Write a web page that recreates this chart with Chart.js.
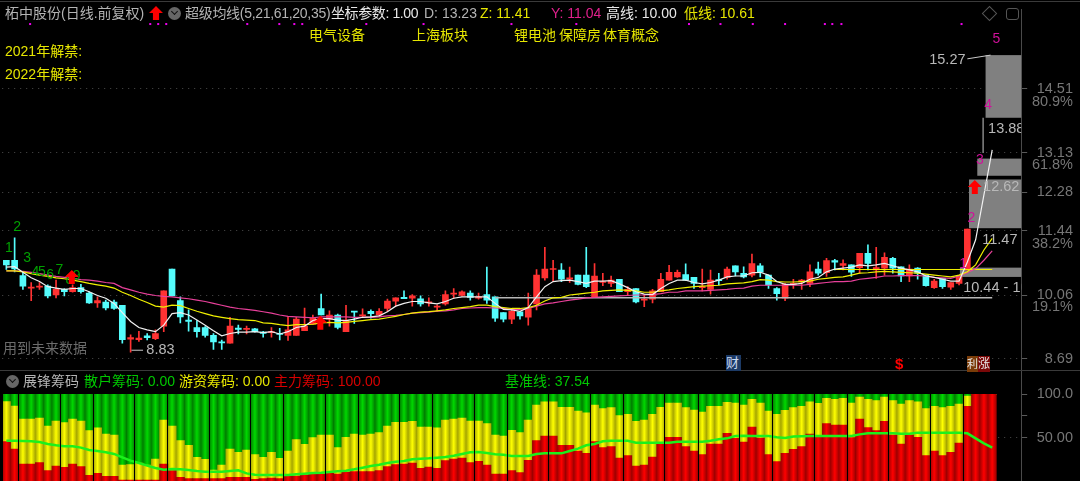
<!DOCTYPE html>
<html>
<head>
<meta charset="utf-8">
<title>柘中股份</title>
<script src="https://cdn.jsdelivr.net/npm/chart.js@4"></script>
<style>
html, body { margin: 0; padding: 0; background: #000; overflow: hidden; }
#page { position: relative; width: 1080px; height: 481px; background: #000; overflow: hidden; }
canvas { position: absolute; left: 0; }
#priceChart { top: 0; }
#chipChart { top: 370px; }
.t { position: absolute; white-space: nowrap; font: 14px "Liberation Sans", "Noto Sans CJK SC", sans-serif; line-height: 16px; }
.gray { color: #b4b4b4; }
.white { color: #e8e8e8; }
.yellow { color: #e6e600; }
.pink { color: #e0208c; }
.green { color: #00c800; }
.red { color: #d80000; }
.round { position: absolute; width: 13px; height: 13px; border-radius: 50%; background: #666; }
.round:after { content: ""; position: absolute; left: 3.5px; top: 2px; width: 4px; height: 4px; border: solid #111; border-width: 0 1.5px 1.5px 0; transform: rotate(45deg); }
.up { position: absolute; left: 149px; top: 6px; width: 14px; height: 14px; background: #f00; clip-path: polygon(50% 0, 100% 50%, 72% 50%, 72% 100%, 28% 100%, 28% 50%, 0 50%); }
.line { position: absolute; background: #3a3a3a; }
</style>
</head>
<body>
<div id="page">
<canvas id="priceChart" width="1080" height="370"></canvas>
<canvas id="chipChart" width="1080" height="111"></canvas>

<div class="line" style="left:0;top:1px;width:1080px;height:1px"></div>
<div class="line" style="left:0;top:370px;width:1080px;height:1px"></div>

<span class="t gray" style="left:5px;top:5px">柘中股份(日线.前复权)</span>
<div class="up"></div>
<div class="round" style="left:168px;top:7px"></div>
<span class="t gray" style="left:185px;top:5px;letter-spacing:-.3px">超级均线(5,21,61,20,35)</span>
<span class="t white" style="left:331px;top:5px;letter-spacing:-.4px">坐标参数: 1.00</span>
<span class="t gray" style="left:424px;top:5px">D: 13.23</span>
<span class="t yellow" style="left:480px;top:5px">Z: 11.41</span>
<span class="t pink" style="left:551px;top:5px">Y: 11.04</span>
<span class="t white" style="left:606px;top:5px">高线: 10.00</span>
<span class="t yellow" style="left:684px;top:5px">低线: 10.61</span>
<div style="position:absolute;left:984px;top:8px;width:9px;height:9px;border:1px solid #555;transform:rotate(45deg)"></div>
<div style="position:absolute;left:1006px;top:8px;width:11px;height:10px;border:1.5px solid #555;border-radius:3px"></div>

<span class="t yellow" style="left:309px;top:27px">电气设备</span>
<span class="t yellow" style="left:412px;top:27px">上海板块</span>
<span class="t yellow" style="left:514px;top:27px">锂电池</span>
<span class="t yellow" style="left:559px;top:27px">保障房</span>
<span class="t yellow" style="left:603px;top:27px">体育概念</span>
<span class="t yellow" style="left:5px;top:43px">2021年解禁:</span>
<span class="t yellow" style="left:5px;top:66px">2022年解禁:</span>
<span class="t" style="left:3px;top:340px;color:#6c6c6c">用到未来数据</span>

<span class="t" style="left:726px;top:355px;width:15px;background:#1c3a66;color:#c8d8f0;font-size:13px">财</span>
<span class="t" style="left:895px;top:356px;color:#f00;font-size:15px;font-weight:bold">$</span>
<span class="t" style="left:967px;top:356px;width:11px;background:#7a3c08;color:#e8e8e8;font-size:11px;overflow:hidden">利</span>
<span class="t" style="left:978px;top:356px;width:12px;background:#7a0808;color:#e8e8e8;font-size:12px;overflow:hidden">涨</span>

<div class="round" style="left:6px;top:375px"></div>
<span class="t gray" style="left:23px;top:373px">展锋筹码</span>
<span class="t green" style="left:84px;top:373px">散户筹码: 0.00</span>
<span class="t yellow" style="left:179px;top:373px">游资筹码: 0.00</span>
<span class="t red" style="left:274px;top:373px">主力筹码: 100.00</span>
<span class="t green" style="left:505px;top:373px">基准线: 37.54</span>
</div>

<script>
// categories: 120 trading days plus the empty slots up to the price axis
const days = [];
for (let i = 0; i < 123; i++) days.push(i);

const opens = [10.81,10.81,10.48,10.21,10.23,10.25,10.06,10.18,10.13,10.22,
	10.10,9.89,9.91,9.91,9.84,9.11,9.10,9.18,9.12,9.39,
	10.62,9.94,9.52,9.36,9.36,9.19,9.05,9.02,9.35,9.32,
	9.33,9.26,9.25,9.23,9.19,9.19,9.29,9.43,9.77,9.54,
	9.63,9.27,9.71,9.61,9.71,9.63,9.77,9.93,10.01,9.99,
	9.98,9.89,9.80,9.87,10.08,10.05,10.10,9.99,10.07,10.02,
	9.68,9.54,9.70,9.58,9.87,10.43,10.61,10.60,10.40,10.49,
	10.49,10.02,10.33,10.31,10.40,10.13,10.20,9.95,9.97,10.13,
	10.38,10.45,10.50,10.44,10.22,10.18,10.39,10.44,10.69,10.53,
	10.49,10.69,10.49,10.20,9.99,10.29,10.34,10.31,10.62,10.54,
	10.80,10.70,10.71,10.65,10.96,10.60,10.64,10.85,10.67,10.47,
	10.64,10.49,10.22,10.42,10.23,10.31,10.60];
const closes = [10.71,10.62,10.25,10.22,10.25,10.04,10.18,10.13,10.22,10.13,
	9.89,9.94,9.78,9.77,9.10,9.14,9.13,9.14,9.23,10.15,
	10.04,9.59,9.49,9.27,9.19,9.05,9.03,9.39,9.32,9.34,
	9.27,9.23,9.27,9.21,9.31,9.54,9.39,9.56,9.63,9.63,
	9.36,9.52,9.69,9.63,9.66,9.71,9.93,10.00,9.98,10.04,
	9.87,9.91,9.82,10.07,10.10,10.13,10.01,10.02,9.95,9.56,
	9.54,9.71,9.61,9.77,10.49,10.62,10.62,10.40,10.43,10.29,
	10.24,10.47,10.35,10.38,10.13,10.18,9.91,9.97,10.15,10.40,
	10.55,10.55,10.38,10.31,10.24,10.38,10.37,10.62,10.56,10.45,
	10.74,10.55,10.28,10.09,10.29,10.31,10.38,10.56,10.53,10.80,
	10.77,10.74,10.55,10.96,10.74,10.65,10.87,10.64,10.47,10.62,
	10.53,10.26,10.36,10.24,10.33,10.46,11.48];
const highs = [10.81,11.29,10.56,10.33,10.33,10.28,10.38,10.20,10.28,10.29,
	10.13,10.02,9.95,9.95,9.84,9.20,9.28,9.23,9.31,10.15,
	10.62,10.02,9.74,9.51,9.38,9.23,9.09,9.58,9.41,9.39,
	9.34,9.28,9.36,9.34,9.59,9.58,9.78,9.63,10.08,9.72,
	9.65,9.84,9.71,9.76,9.74,9.77,9.97,10.00,10.15,10.07,
	10.04,10.00,9.85,10.15,10.20,10.15,10.15,10.10,10.66,10.02,
	9.68,9.77,9.70,10.10,10.61,11.09,10.81,10.74,10.66,10.49,
	11.09,10.74,10.53,10.47,10.40,10.24,10.20,10.06,10.18,10.53,
	10.70,10.60,10.73,10.44,10.62,10.60,10.53,10.66,10.69,10.67,
	10.94,10.74,10.49,10.22,10.31,10.40,10.40,10.71,10.77,10.85,
	10.83,10.82,10.71,10.96,11.14,11.09,10.97,10.87,10.67,10.71,
	10.65,10.49,10.40,10.42,10.33,10.49,11.48];
const lows = [10.61,10.56,10.18,9.94,10.18,10.00,10.00,10.04,10.12,10.10,
	9.88,9.79,9.74,9.75,9.02,8.83,9.06,9.09,9.10,9.27,
	10.04,9.46,9.28,9.15,9.15,8.89,8.89,9.02,9.22,9.22,
	9.26,9.15,9.15,9.09,9.08,9.19,9.29,9.43,9.63,9.39,
	9.33,9.27,9.45,9.58,9.56,9.61,9.70,9.82,9.98,9.82,
	9.82,9.82,9.71,9.84,9.99,10.04,9.95,9.97,9.88,9.49,
	9.48,9.44,9.54,9.41,9.74,10.38,10.35,10.35,10.33,10.28,
	10.22,10.02,10.26,10.24,10.13,10.05,9.89,9.81,9.89,10.13,
	10.38,10.44,10.37,10.20,10.15,10.08,10.28,10.40,10.47,10.43,
	10.45,10.45,10.20,9.95,9.94,10.20,10.18,10.24,10.49,10.46,
	10.60,10.60,10.46,10.53,10.60,10.42,10.49,10.53,10.35,10.35,
	10.40,10.25,10.20,10.20,10.18,10.28,10.60];

const maWhite = [10.66,10.67,10.55,10.43,10.35,10.24,10.21,10.18,10.20,10.20,
	10.13,10.05,9.99,9.88,9.68,9.49,9.36,9.31,9.27,9.41,
	9.66,9.68,9.63,9.52,9.41,9.29,9.18,9.23,9.26,9.26,
	9.27,9.25,9.27,9.22,9.27,9.36,9.39,9.51,9.55,9.55,
	9.52,9.51,9.54,9.58,9.59,9.61,9.70,9.82,9.88,9.92,
	9.92,9.89,9.87,9.92,9.99,10.02,10.02,10.02,10.02,9.88,
	9.75,9.74,9.71,9.79,10.02,10.24,10.35,10.37,10.38,10.35,
	10.31,10.36,10.36,10.37,10.30,10.22,10.13,10.08,10.07,10.20,
	10.31,10.38,10.38,10.33,10.30,10.33,10.38,10.45,10.47,10.47,
	10.54,10.55,10.49,10.35,10.29,10.29,10.31,10.40,10.44,10.56,
	10.62,10.64,10.66,10.71,10.69,10.71,10.74,10.69,10.64,10.60,
	10.56,10.47,10.44,10.40,10.36,10.36,10.77,11.25,12.22,13.19];
const maYellow = [10.58,10.58,10.56,10.52,10.49,10.46,10.43,10.41,10.38,10.35,
	10.31,10.28,10.25,10.21,10.12,10.05,9.97,9.90,9.82,9.80,
	9.84,9.83,9.77,9.71,9.66,9.61,9.58,9.55,9.53,9.52,
	9.51,9.46,9.45,9.42,9.40,9.42,9.42,9.43,9.46,9.47,
	9.46,9.47,9.49,9.51,9.53,9.54,9.57,9.60,9.64,9.67,
	9.69,9.70,9.72,9.74,9.77,9.79,9.81,9.84,9.84,9.81,
	9.79,9.77,9.77,9.79,9.84,9.93,10.00,10.01,10.06,10.08,
	10.10,10.12,10.15,10.16,10.17,10.16,10.15,10.12,10.12,10.15,
	10.17,10.20,10.22,10.24,10.25,10.26,10.27,10.30,10.31,10.32,
	10.35,10.39,10.38,10.35,10.34,10.34,10.35,10.36,10.40,10.42,
	10.44,10.45,10.49,10.53,10.54,10.56,10.57,10.56,10.55,10.54,
	10.53,10.51,10.49,10.47,10.45,10.49,10.56,10.71,11.03,11.28];
const maPink = [10.58,10.58,10.57,10.55,10.52,10.49,10.46,10.44,10.42,10.39,
	10.38,10.36,10.33,10.31,10.22,10.17,10.12,10.08,10.05,10.03,
	10.02,10.00,9.98,9.95,9.92,9.88,9.84,9.80,9.77,9.75,
	9.73,9.70,9.67,9.63,9.60,9.59,9.58,9.57,9.59,9.59,
	9.59,9.59,9.58,9.58,9.58,9.59,9.61,9.62,9.64,9.67,
	9.68,9.69,9.71,9.72,9.74,9.77,9.78,9.79,9.79,9.78,
	9.77,9.75,9.75,9.77,9.82,9.87,9.89,9.92,9.95,9.97,
	10.00,10.01,10.02,10.03,10.04,10.05,10.06,10.06,10.07,10.09,
	10.12,10.12,10.15,10.15,10.15,10.16,10.17,10.18,10.20,10.21,
	10.25,10.27,10.27,10.27,10.27,10.27,10.27,10.29,10.31,10.33,
	10.35,10.35,10.36,10.40,10.42,10.44,10.47,10.47,10.48,10.48,
	10.48,10.47,10.44,10.43,10.42,10.47,10.54,10.63,10.81,11.01];

// the two flat levels from the header (高线 / 低线)
const highLine = [{x: 59, y: 10.00}, {x: 119, y: 10.00}];
const lowLine = [{x: 100, y: 10.61}, {x: 119, y: 10.61}];

const priceTicks = [14.51, 13.13, 12.28, 11.44, 10.06, 8.69];
const percentTicks = {14.22: "80.9%", 12.87: "61.8%", 11.16: "38.2%", 9.8: "19.1%"};

// gray wave boxes: start slot, top price, bottom price
const boxStart = [118.2, 117.2, 116.2, 115.1];
const boxTop = [15.23, 13.00, 12.55, 10.65];
const boxBottom = [13.88, 12.63, 11.50, 10.45];

const labelText = ["15.27", "13.88", "12.62 -", "11.47 -", "10.44 - 10.61", "8.83"];
const labelSlot = [111.4, 118.5, 117.9, 117.8, 115.5, 16.9];
const labelPrice = [15.13, 13.64, 12.39, 11.25, 10.21, 8.87];

const waveGreen = ["1", "2", "3", "4", "5", "6", "7", "8", "9"];
const waveGreenSlot = [0.3, 1.3, 2.5, 3.5, 4.3, 5.3, 6.4, 7.6, 8.5];
const waveGreenPrice = [11.07, 11.53, 10.86, 10.56, 10.56, 10.49, 10.6, 10.38, 10.47];
const wavePink = ["1", "2", "3", "4", "5"];
const wavePinkSlot = [115.5, 116.5, 117.5, 118.5, 119.5];
const wavePinkPrice = [10.73, 11.71, 12.96, 14.16, 15.58];

const dotSlots = [2.87, 17.37, 18.33, 19.3, 29.08, 32.95, 34.76, 35.72, 43.45, 50.36,
	60.97, 68.8, 82.4, 86.2, 90.1, 94, 98.8, 99.7, 100.8, 115.3];
const dotPrice = 15.9;

const arrowSlots = [7.9, 37.9, 116.9];
const arrowPrices = [10.45, 9.46, 12.39];

// chip panel, read at each bar
const mainChips = [45.4,36.9,19.6,19.6,21.2,11.9,17.3,15.8,19.6,16.5,
	6.5,8.8,5.4,5.4,1.2,1.2,1.2,1.2,1.2,19.6,
	11.9,4.2,2.7,2.7,2.7,2.7,2.7,4.2,4.2,4.2,
	1.9,2.7,3.5,2.7,5.8,5.8,6.9,8.1,8.1,8.8,
	8.1,10,10.8,10.8,10.8,11.9,16.5,18.8,19.6,20.8,
	14.6,16.2,14.6,23.5,25.4,26.5,21.2,22.7,18.5,8.1,
	8.1,11.9,9.6,23.8,46.5,51.9,51.9,41.2,41.2,34.6,
	31.9,45.4,38.5,39.6,26.5,29.2,17.3,18.5,27.7,42.7,
	50.4,50.4,39.6,34.6,30.4,42.7,42.7,55,49.2,45,
	62.3,49.6,30.4,22.3,31.9,36.5,39.6,54.2,51.9,66.2,
	64.6,64.6,50,71.5,61.5,58.1,68.8,53.1,42.7,53.1,
	50.4,29.2,34.6,29.2,33.1,43.8,86.2,100,100,100];
const yellowTops = [91.5,86.5,71.5,71.5,72.7,63.5,69.2,67.3,71.5,69.2,
	58.1,61.2,54.2,53.1,18.5,18.8,20.8,18.5,25.4,70.4,
	63.5,46.5,41.2,27.3,25,12.7,18.5,36.9,33.1,35.8,
	30.4,27.3,33.1,26.2,34.6,47.7,42.3,50,53.1,53.1,
	38.5,50.4,54.2,53.1,54.2,55.8,63.5,67.7,67.7,68.8,
	62.3,62.3,61.2,70.4,71.5,72.7,69.2,69.2,66.2,53.1,
	51.9,58.5,55.8,70.4,87.7,91.2,91.2,85,85,80.8,
	78.5,87.7,83.5,84.6,75.4,76.9,68.8,70.4,76.9,85,
	90,90,84.6,81.9,79.6,86.2,86.2,90.8,90,87.7,
	94.2,90,80.8,76.9,81.5,84.6,86.2,91.2,89.6,95.4,
	94.2,95.4,90,96.9,94.2,92.7,96.9,92.7,88.8,92.7,
	91.2,83.5,86.2,84.6,86.2,88.8,98.1,100,100,100];
const baseLine = [46.5,46.5,46.2,45.8,45,42.7,41.2,40,40,38.5,
	35.8,34.6,33.1,31.2,27.3,23.5,20.8,17.7,15,13.1,
	13.8,13.5,12.7,11.5,10.8,10.8,10.8,11.5,12.3,8.8,
	7.3,6.9,6.9,6.9,6.9,7.7,8.5,9.2,9.6,10.4,
	11.2,11.9,13.5,15.4,17.3,18.8,20.8,22.3,23.1,25,
	25.8,26.2,26.9,27.7,29.2,31.2,33.1,33.5,32.3,30.8,
	30.4,28.8,28.8,28.8,31.2,31.9,31.9,31.9,34.6,37.3,
	41.2,42.7,45.8,46.5,46.5,46.5,44.2,44.2,44.2,44.2,
	44.2,45.4,45.4,45.4,45.4,46.5,48.1,49.2,51.9,52.3,
	51.9,51.9,51.9,50.4,49.6,51.2,51.5,51.9,51.9,51.9,
	51.9,51.9,51.9,53.8,55,55,55,55,54.6,54.6,
	55.8,55.8,55.8,55.8,55.8,55.8,55,49.2,43.5,38.5];
// month boundaries, dark gaps between the bars
const monthStarts = [0, 2, 7, 11, 16, 20, 25, 30, 34, 39, 43, 48, 52, 57, 61, 66, 71, 75, 80, 84,
	89, 93, 98, 102, 107, 112, 116];

const hotChips = yellowTops.map((v, i) => v - mainChips[i]);
const retailChips = yellowTops.map(v => 100 - v);

const bodyColor = (ctx) => closes[ctx.dataIndex] >= opens[ctx.dataIndex] ? "#ff3232" : "#54fcfc";
const LABEL_FONT = '14.5px "Liberation Sans", sans-serif';

function lineSet(data, color, order, width) {
	return {type: "line", data, borderColor: color, borderWidth: width, pointRadius: 0, order};
}

// the tick labels must not push the plot away from the panel edges
function fitAxis(axis) {
	axis.width = 51.8;
	axis.paddingTop = 0;
	axis.paddingBottom = 0;
}

// wave boxes go under the candles
const boxPlugin = {
	id: "boxes",
	beforeDatasetsDraw(chart) {
		const {ctx, scales: {x, y}, chartArea} = chart;
		ctx.save();
		ctx.fillStyle = "#808080";
		boxStart.forEach((start, i) => {
			const left = x.getPixelForValue(start);
			const top = y.getPixelForValue(boxTop[i]);
			ctx.fillRect(left, top, chartArea.right - left, y.getPixelForValue(boxBottom[i]) - top);
		});
		ctx.restore();
	}
};

const notePlugin = {
	id: "notes",
	afterDatasetsDraw(chart) {
		const {ctx, scales: {x, y}, chartArea} = chart;
		ctx.save();
		ctx.beginPath();
		ctx.rect(0, 0, chartArea.right, chart.height);
		ctx.clip();

		ctx.fillStyle = "#ee00ee";
		dotSlots.forEach(s => ctx.fillRect(x.getPixelForValue(s) - 1, y.getPixelForValue(dotPrice) - 1, 2, 2));

		ctx.font = LABEL_FONT;
		ctx.textBaseline = "middle";
		ctx.fillStyle = "#b8b8b8";
		labelText.forEach((text, i) => ctx.fillText(text, x.getPixelForValue(labelSlot[i]), y.getPixelForValue(labelPrice[i])));

		ctx.font = '14px "Liberation Sans", sans-serif';
		ctx.textAlign = "center";
		ctx.fillStyle = "#00a000";
		waveGreen.forEach((text, i) => ctx.fillText(text, x.getPixelForValue(waveGreenSlot[i]), y.getPixelForValue(waveGreenPrice[i])));
		ctx.fillStyle = "#d0109a";
		wavePink.forEach((text, i) => ctx.fillText(text, x.getPixelForValue(wavePinkSlot[i]), y.getPixelForValue(wavePinkPrice[i])));

		// leader lines of the labels
		ctx.strokeStyle = "#c8c8c8";
		ctx.lineWidth = 1;
		ctx.beginPath();
		ctx.moveTo(x.getPixelForValue(116), y.getPixelForValue(15.15));
		ctx.lineTo(x.getPixelForValue(118.8), y.getPixelForValue(15.23));
		ctx.moveTo(x.getPixelForValue(117.9), y.getPixelForValue(13.88));
		ctx.lineTo(x.getPixelForValue(117.9), y.getPixelForValue(13.12));
		ctx.moveTo(x.getPixelForValue(16.5), y.getPixelForValue(8.87));
		ctx.lineTo(x.getPixelForValue(15.1), y.getPixelForValue(8.87));
		ctx.stroke();

		// red up arrows
		ctx.fillStyle = "#ff0000";
		arrowSlots.forEach((s, i) => {
			const px = x.getPixelForValue(s);
			const py = y.getPixelForValue(arrowPrices[i]);
			ctx.beginPath();
			ctx.moveTo(px, py - 7);
			ctx.lineTo(px + 7, py);
			ctx.lineTo(px + 3, py);
			ctx.lineTo(px + 3, py + 7);
			ctx.lineTo(px - 3, py + 7);
			ctx.lineTo(px - 3, py);
			ctx.lineTo(px - 7, py);
			ctx.closePath();
			ctx.fill();
		});
		ctx.restore();
	}
};

new Chart(document.getElementById("priceChart").getContext("2d"), {
	data: {
		labels: days,
		datasets: [
			lineSet(maWhite, "#f0f0f0", 3, 1.2),
			lineSet(maYellow, "#f0f000", 4, 1.2),
			lineSet(maPink, "#e8409a", 5, 1.2),
			lineSet(highLine, "#b8b8b8", 6, 1.5),
			lineSet(lowLine, "#f0f000", 6, 1),
			{type: "bar", data: opens.map((v, i) => [v, closes[i]]), backgroundColor: bodyColor,
				barThickness: 6, grouped: false, minBarLength: 1, order: 7},
			{type: "bar", data: lows.map((v, i) => [v, highs[i]]), backgroundColor: bodyColor,
				barThickness: 1, grouped: false, order: 8}
		]
	},
	options: {
		responsive: false,
		animation: false,
		layout: {padding: {left: 2.2, top: 9, right: 7, bottom: 0}},
		plugins: {legend: {display: false}, tooltip: {enabled: false}},
		scales: {
			x: {display: false, offset: true, grid: {display: false}},
			y: {
				position: "right",
				min: 8.444,
				max: 16.224,
				afterFit: fitAxis,
				afterBuildTicks(axis) {
					axis.ticks = priceTicks.concat(Object.keys(percentTicks).map(Number)).map(value => ({value}));
				},
				ticks: {
					autoSkip: false,
					color: "#767676",
					font: {family: '"Liberation Sans"', size: 14.5},
					padding: 0,
					crossAlign: "far",
					callback: value => percentTicks[value] || value.toFixed(2)
				},
				grid: {
					color: ctx => priceTicks.includes(ctx.tick.value) ? "#4c4c4c" : "transparent",
					tickColor: ctx => priceTicks.includes(ctx.tick.value) ? "#5a5a5a" : "transparent",
					tickLength: 6
				},
				border: {color: "#4a4a4a", dash: [1, 5]}
			}
		}
	},
	plugins: [boxPlugin, notePlugin]
});

// each chip bar is shaded like a small cylinder
function shaded(edge, middle) {
	return (ctx) => {
		const scale = ctx.chart.scales.x;
		const px = scale ? scale.getPixelForValue(ctx.dataIndex) : NaN;
		const half = scale ? scale.width / days.length / 2 : 0;
		if (!isFinite(px) || !half) return middle;
		const fill = ctx.chart.ctx.createLinearGradient(px - half, 0, px + half, 0);
		fill.addColorStop(0, edge);
		fill.addColorStop(0.5, middle);
		fill.addColorStop(1, edge);
		return fill;
	};
}

new Chart(document.getElementById("chipChart").getContext("2d"), {
	data: {
		labels: days,
		datasets: [
			{type: "line", data: baseLine, borderColor: "#1cf01c", borderWidth: 2.5, pointRadius: 0, order: 0},
			{type: "bar", data: mainChips, backgroundColor: shaded("#a00000", "#ff0000"), order: 1},
			{type: "bar", data: hotChips, backgroundColor: shaded("#a8a800", "#ffff00"), order: 1},
			{type: "bar", data: retailChips, backgroundColor: shaded("#008000", "#00d800"), order: 1}
		]
	},
	options: {
		responsive: false,
		animation: false,
		datasets: {bar: {barPercentage: 1, categoryPercentage: 1}},
		layout: {padding: {left: 2.2, top: 1, right: 7, bottom: 0}},
		plugins: {legend: {display: false}, tooltip: {enabled: false}},
		scales: {
			x: {
				display: true,
				stacked: true,
				offset: true,
				ticks: {display: false, autoSkip: false},
				grid: {
					z: 1,
					drawTicks: false,
					offset: true,
					lineWidth: ctx => ctx.index === 0 ? 2 : 1,
					color: ctx => monthStarts.includes(ctx.index) ? "#000000" : "transparent"
				},
				border: {display: false}
			},
			y: {
				position: "right",
				stacked: true,
				min: 0,
				max: 126.9,
				afterFit: fitAxis,
				afterBuildTicks(axis) {
					axis.ticks = [{value: 100}, {value: 75}, {value: 50}];
				},
				ticks: {
					autoSkip: false,
					color: "#767676",
					font: {family: '"Liberation Sans"', size: 14.5},
					padding: 0,
					crossAlign: "far",
					callback: value => value === 100 ? "100.0" : value === 50 ? "50.00" : ""
				},
				grid: {color: ctx => ctx.tick.value === 50 ? "#4c4c4c" : "transparent", tickColor: "#5a5a5a", tickLength: 6},
				border: {color: "#4a4a4a", dash: [1, 5]}
			}
		}
	}
});
</script>
</body>
</html>
